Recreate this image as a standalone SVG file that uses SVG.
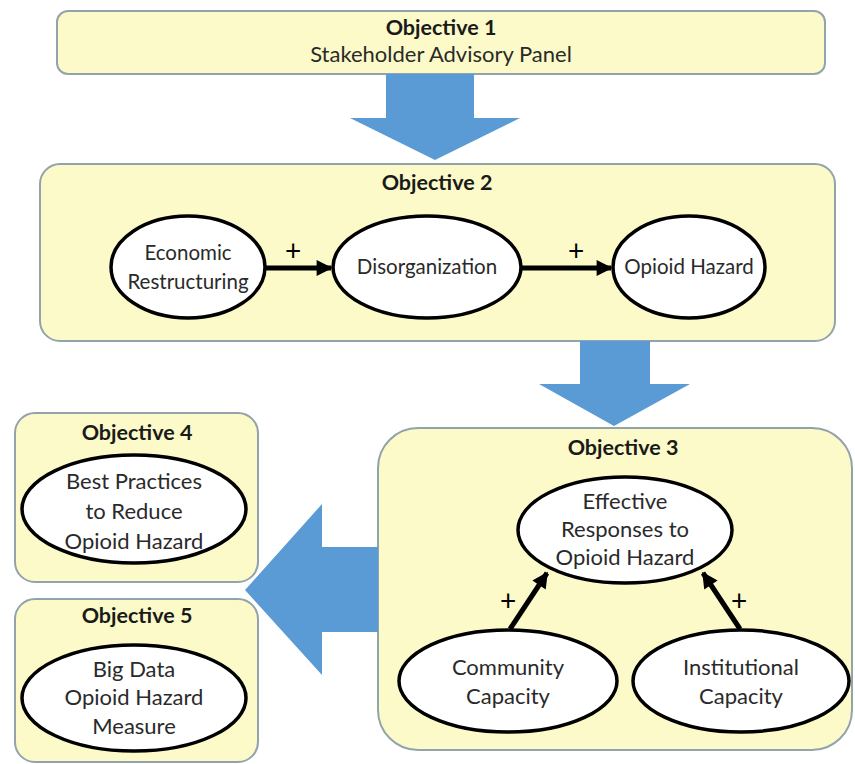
<svg xmlns="http://www.w3.org/2000/svg" width="855" height="764" viewBox="0 0 855 764">
<style>
.box{fill:#fcfac8;stroke:#93a3ab;stroke-width:2}
.ell{fill:#ffffff;stroke:#000;stroke-width:3.5}
.big{fill:#5b9bd5}
.hd{font-family:Lato,"Liberation Sans",sans-serif;font-weight:bold;font-size:21.5px;fill:#1a1a1a;text-anchor:middle}
.tx{font-family:Lato,"Liberation Sans",sans-serif;font-size:20.5px;fill:#2a2a2a;text-anchor:middle}
.tl{font-family:Lato,"Liberation Sans",sans-serif;font-size:22px;fill:#2a2a2a;text-anchor:middle}
.pl{font-family:Lato,"Liberation Sans",sans-serif;font-size:28px;fill:#000;text-anchor:middle}
.ln{stroke:#000;stroke-width:5;fill:none;marker-end:url(#ah)}
</style>
<defs>
<marker id="ah" viewBox="0 0 10 10" refX="9" refY="5" markerWidth="3.4" markerHeight="3.2" orient="auto" markerUnits="strokeWidth">
<path d="M0,0 L10,5 L0,10 z" fill="#000"/>
</marker>
</defs>
<rect width="855" height="764" fill="#ffffff"/>
<g id="obj1">
<rect class="box" x="57" y="11" width="768" height="63" rx="11"/>
<text class="hd" x="441" y="35">Objective 1</text>
<text class="tl" x="441" y="62">Stakeholder Advisory Panel</text>
</g>
<g id="obj2">
<rect class="box" x="40" y="164" width="795" height="177" rx="20"/>
<text class="hd" x="437" y="190">Objective 2</text>
</g>
<g id="econ">
<ellipse class="ell" cx="188" cy="267" rx="77" ry="51"/>
<text class="tx" x="188" y="260">Economic</text>
<text class="tx" x="188" y="289">Restructuring</text>
</g>
<g id="disorg">
<ellipse class="ell" cx="427" cy="267" rx="94" ry="51"/>
<text class="tx" x="427" y="274">Disorganization</text>
</g>
<g id="hazard">
<ellipse class="ell" cx="689" cy="267" rx="76" ry="51"/>
<text class="tx" x="689" y="274">Opioid Hazard</text>
</g>
<g id="obj3">
<rect class="box" x="378" y="428" width="474" height="322" rx="40"/>
<text class="hd" x="623" y="455">Objective 3</text>
</g>
<g id="effective">
<ellipse class="ell" cx="625" cy="530" rx="107" ry="53"/>
<text class="tl" x="625" y="509">Effective</text>
<text class="tl" x="625" y="537">Responses to</text>
<text class="tl" x="625" y="565">Opioid Hazard</text>
</g>
<g id="community">
<ellipse class="ell" cx="508" cy="681" rx="109" ry="51"/>
<text class="tl" x="508" y="675">Community</text>
<text class="tl" x="508" y="704">Capacity</text>
</g>
<g id="institutional">
<ellipse class="ell" cx="741" cy="681" rx="108" ry="51"/>
<text class="tl" x="741" y="675">Institutional</text>
<text class="tl" x="741" y="704">Capacity</text>
</g>
<g id="obj4">
<rect class="box" x="15" y="413" width="243" height="169" rx="20"/>
<text class="hd" x="137" y="440">Objective 4</text>
</g>
<g id="bestpractices">
<ellipse class="ell" cx="134" cy="509" rx="112" ry="54"/>
<text class="tl" x="134" y="489">Best Practices</text>
<text class="tl" x="134" y="519">to Reduce</text>
<text class="tl" x="134" y="549">Opioid Hazard</text>
</g>
<g id="obj5">
<rect class="box" x="15" y="599" width="243" height="163" rx="20"/>
<text class="hd" x="137" y="623">Objective 5</text>
</g>
<g id="bigdata">
<ellipse class="ell" cx="134" cy="698" rx="112" ry="53"/>
<text class="tl" x="134" y="677">Big Data</text>
<text class="tl" x="134" y="705">Opioid Hazard</text>
<text class="tl" x="134" y="734">Measure</text>
</g>
<g id="connectors">
<path class="big" d="M386,74 H474 V118 H520 L435,160 L350,118 H386 Z"/>
<path class="big" d="M580,341 H650 V384 H690 L614,426 L539,384 H580 Z"/>
<path class="big" d="M378,547 V632 H322 V675 L245,590 L322,504 V547 Z"/>
<line class="ln" x1="265" y1="268" x2="331" y2="268"/>
<line class="ln" x1="521" y1="268" x2="611" y2="268"/>
<line class="ln" x1="510" y1="629" x2="547" y2="573"/>
<line class="ln" x1="740" y1="629" x2="703" y2="573"/>
<text class="pl" x="293" y="261">+</text>
<text class="pl" x="576" y="261">+</text>
<text class="pl" x="508" y="611">+</text>
<text class="pl" x="739" y="611">+</text>
</g>
</svg>
